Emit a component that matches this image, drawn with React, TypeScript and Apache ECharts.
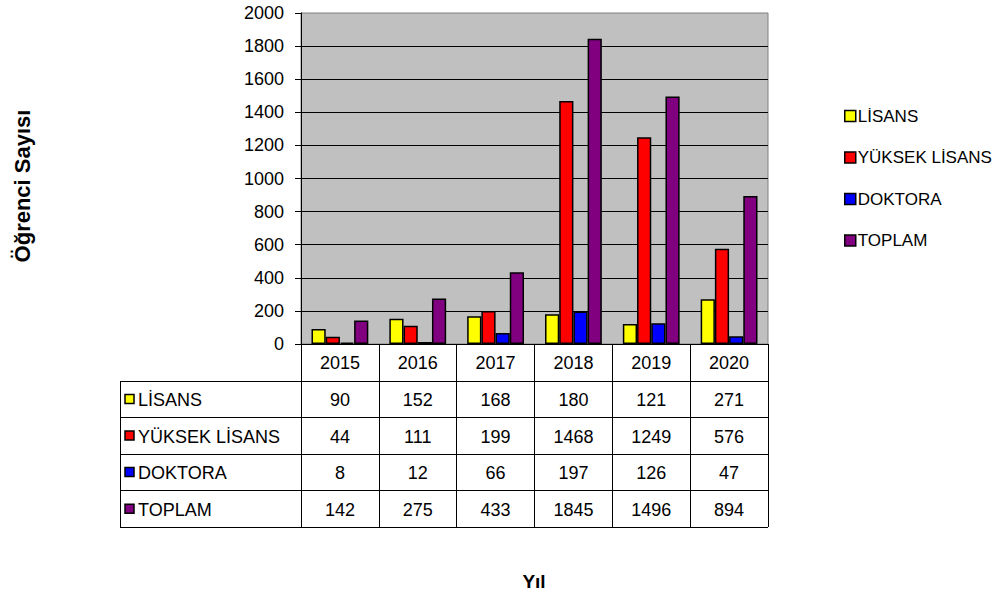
import React, { useEffect, useRef } from "react";
import * as echarts from "echarts";

const categories = ["2015", "2016", "2017", "2018", "2019", "2020"];
const lisans = [90, 152, 168, 180, 121, 271];
const yuksekLisans = [44, 111, 199, 1468, 1249, 576];
const doktora = [8, 12, 66, 197, 126, 47];
const toplam = [142, 275, 433, 1845, 1496, 894];
const seriesNames = ["LİSANS", "YÜKSEK LİSANS", "DOKTORA", "TOPLAM"];
const seriesColors = ["#FFFF00", "#FF0000", "#0000FF", "#800080"];
const seriesValues = [lisans, yuksekLisans, doktora, toplam];
const yAxisTitle = "Öğrenci Sayısı";
const xAxisTitle = "Yıl";
const yMin = 0;
const yMax = 2000;
const yInterval = 200;

const SANS = "'Liberation Sans', Arial, sans-serif";

// layout
const GRID_L = 301;
const GRID_R = 768;
const GRID_T = 13;
const GRID_B = 344;
const TABLE_L = 120;
const ROW_H = 36.6;
const TABLE_B = GRID_B + ROW_H * 5;

export default function App() {
  const ref = useRef<HTMLDivElement>(null);

  useEffect(() => {
    if (!ref.current) return;
    const chart = echarts.init(ref.current, undefined, { renderer: "svg" });

    const graphics: any[] = [];
    for (let r = 1; r <= 5; r++) {
      const y = Math.round(GRID_B + ROW_H * r) + 0.5;
      graphics.push({
        type: "line",
        shape: { x1: TABLE_L, y1: y, x2: GRID_R, y2: y },
        style: { stroke: "#000", lineWidth: 1 },
        silent: true,
      });
    }
    graphics.push({
      type: "line",
      shape: {
        x1: TABLE_L + 0.5,
        y1: Math.round(GRID_B + ROW_H) + 0.5,
        x2: TABLE_L + 0.5,
        y2: Math.round(TABLE_B) + 0.5,
      },
      style: { stroke: "#000", lineWidth: 1 },
      silent: true,
    });
    seriesNames.forEach((name, i) => {
      const cy = GRID_B + ROW_H * (i + 1.5);
      graphics.push({
        type: "rect",
        shape: { x: TABLE_L + 5, y: cy - 4.5, width: 9, height: 9 },
        style: { fill: seriesColors[i], stroke: "#000", lineWidth: 1.5 },
        silent: true,
      });
      graphics.push({
        type: "text",
        x: TABLE_L + 18,
        y: cy + 1,
        style: {
          text: name,
          fill: "#000",
          font: `18px ${SANS}`,
          verticalAlign: "middle",
          align: "left",
        },
        silent: true,
      });
    });
    graphics.push({
      type: "text",
      x: 22,
      y: 186,
      rotation: Math.PI / 2,
      style: {
        text: yAxisTitle,
        fill: "#000",
        font: `bold 22px ${SANS}`,
        align: "center",
        verticalAlign: "middle",
      },
      silent: true,
    });
    graphics.push({
      type: "text",
      x: 534,
      y: 581,
      style: {
        text: xAxisTitle,
        fill: "#000",
        font: `bold 19px ${SANS}`,
        align: "center",
        verticalAlign: "middle",
      },
      silent: true,
    });

    chart.setOption({
      animation: false,
      backgroundColor: "#fff",
      grid: {
        left: GRID_L,
        top: GRID_T,
        width: GRID_R - GRID_L,
        height: GRID_B - GRID_T,
        show: true,
        backgroundColor: "#C0C0C0",
        borderColor: "#808080",
        borderWidth: 1,
      },
      legend: {
        orient: "vertical",
        left: 839,
        top: 100,
        itemWidth: 11,
        itemHeight: 11,
        itemGap: 19.5,
        icon: "rect",
        data: seriesNames,
        textStyle: {
          fontFamily: SANS,
          fontSize: 17,
          lineHeight: 20,
          color: "#000",
          padding: [2, 0, 0, -3],
        },
        itemStyle: { borderColor: "#000", borderWidth: 1.5 },
      },
      xAxis: {
        type: "category",
        data: categories,
        axisLine: { lineStyle: { color: "#000", width: 1 } },
        axisTick: {
          show: true,
          interval: 0,
          length: TABLE_B - GRID_B,
          lineStyle: { color: "#000", width: 1 },
        },
        axisLabel: {
          interval: 0,
          margin: 1,
          fontFamily: SANS,
          fontSize: 18,
          lineHeight: ROW_H,
          color: "#000",
          formatter: (value: string, idx: number) =>
            [value, ...seriesValues.map((arr) => String(arr[idx]))].join("\n"),
        },
      },
      yAxis: {
        type: "value",
        min: yMin,
        max: yMax,
        interval: yInterval,
        axisLine: { show: true, lineStyle: { color: "#000", width: 1 } },
        axisTick: { show: true, length: 6, lineStyle: { color: "#000" } },
        axisLabel: {
          margin: 17,
          fontFamily: SANS,
          fontSize: 18,
          color: "#000",
          formatter: (v: number) => String(v),
        },
        splitLine: {
          show: true,
          showMaxLine: false,
          lineStyle: { color: "#000", width: 1 },
        },
      },
      series: seriesNames.map((name, i) => ({
        name,
        type: "bar",
        data: seriesValues[i],
        barGap: "0%",
        barCategoryGap: "27%",
        itemStyle: {
          color: seriesColors[i],
          borderColor: "#000",
          borderWidth: 1.5,
        },
      })),
      graphic: graphics,
    });

    return () => chart.dispose();
  }, []);

  return (
    <div
      ref={ref}
      style={{ position: "absolute", left: 0, top: 0, width: 995, height: 600 }}
    />
  );
}
